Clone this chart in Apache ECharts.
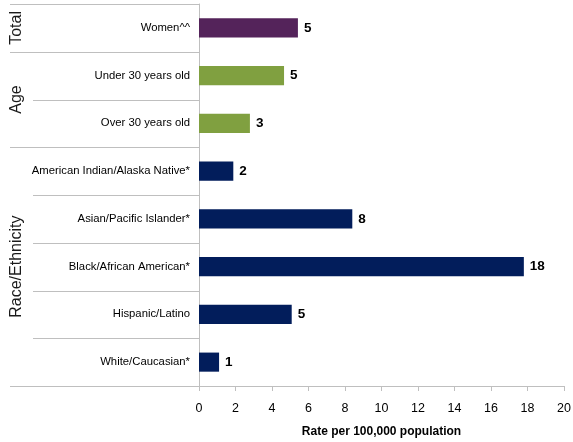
<!DOCTYPE html>
<html><head><meta charset="utf-8">
<script src="https://cdn.jsdelivr.net/npm/echarts@6/dist/echarts.min.js"></script>
<style>html,body{margin:0;padding:0;background:#fff}#c{width:573px;height:442px}</style>
</head><body><div id="c"></div>
<script>
const categories = ["Women^^","Under 30 years old","Over 30 years old","American Indian/Alaska Native*","Asian/Pacific Islander*","Black/African American*","Hispanic/Latino","White/Caucasian*"];
const values = [5.42, 4.66, 2.79, 1.88, 8.4, 17.8, 5.08, 1.1];
const valueLabels = ["5","5","3","2","8","18","5","1"];
const groupOf = ["Total","Age","Age","Race","Race","Race","Race","Race"];
const groups = [{name:"Total", from:0, to:0},{name:"Age", from:1, to:2},{name:"Race/Ethnicity", from:3, to:7}];
const groupColors = {Total:"#54235a", Age:"#80a040", Race:"#021d5b"};
const xTicks = [0,2,4,6,8,10,12,14,16,18,20];

const sans = "'Liberation Sans',Arial,sans-serif";
const chart = echarts.init(document.getElementById('c'));
chart.setOption({
  animation:false,
  grid:{left:199,right:9,top:4,bottom:56,containLabel:false,outerBoundsMode:'none'},
  xAxis:{type:'value',min:xTicks[0],max:xTicks[xTicks.length-1],interval:2,
    axisLine:{show:true,lineStyle:{color:'#bfbfbf',width:1}},
    axisTick:{show:true,length:5,lineStyle:{color:'#bfbfbf'}},
    splitLine:{show:false},
    axisLabel:{color:'#000',fontFamily:sans,fontSize:12.5,margin:16},
    name:'Rate per 100,000 population',nameLocation:'middle',nameGap:40,
    nameTextStyle:{color:'#000',fontFamily:sans,fontSize:12,fontWeight:'bold'}},
  yAxis:{type:'category',data:categories,inverse:true,
    axisLine:{show:true,lineStyle:{color:'#bfbfbf'}},
    axisTick:{show:false},
    axisLabel:{color:'#000',fontFamily:sans,fontSize:11.3,margin:9}},
  series:[{type:'bar',barWidth:'40%',
    data:values.map((v,i)=>({value:v,itemStyle:{color:groupColors[groupOf[i]]}})),
    label:{show:true,position:'right',distance:6,color:'#000',fontFamily:sans,fontSize:13.5,fontWeight:'bold',
      formatter:p=>valueLabels[p.dataIndex]}}]
});
const g = [];
const n = categories.length;
const y0 = chart.convertToPixel({yAxisIndex:0},0);
const y1 = chart.convertToPixel({yAxisIndex:0},1);
const step = y1 - y0;
const xAxisPx = chart.convertToPixel({xAxisIndex:0},0);
const groupStarts = new Set(groups.map(gr=>gr.from));
for(let b=0;b<=n;b++){
  const y = Math.round(y0 - step/2 + b*step) + 0.5;
  const isGroup = groupStarts.has(b) || b===n;
  const x1 = isGroup ? 10 : 33;
  const x2 = b===n ? chart.convertToPixel({xAxisIndex:0},xTicks[xTicks.length-1]) : xAxisPx;
  g.push({type:'line',shape:{x1:x1,y1:y,x2:x2,y2:y},style:{stroke:'#bfbfbf',lineWidth:1},silent:true});
}
groups.forEach(gr=>{
  const cy = (y0 + gr.from*step + y0 + gr.to*step)/2;
  g.push({type:'text',x:17,y:cy,rotation:Math.PI/2,
    style:{text:gr.name,fill:'#1a1a1a',font:"16px 'Liberation Sans',Arial,sans-serif",align:'center',verticalAlign:'middle'},silent:true});
});
chart.setOption({graphic:g});
</script></body></html>
